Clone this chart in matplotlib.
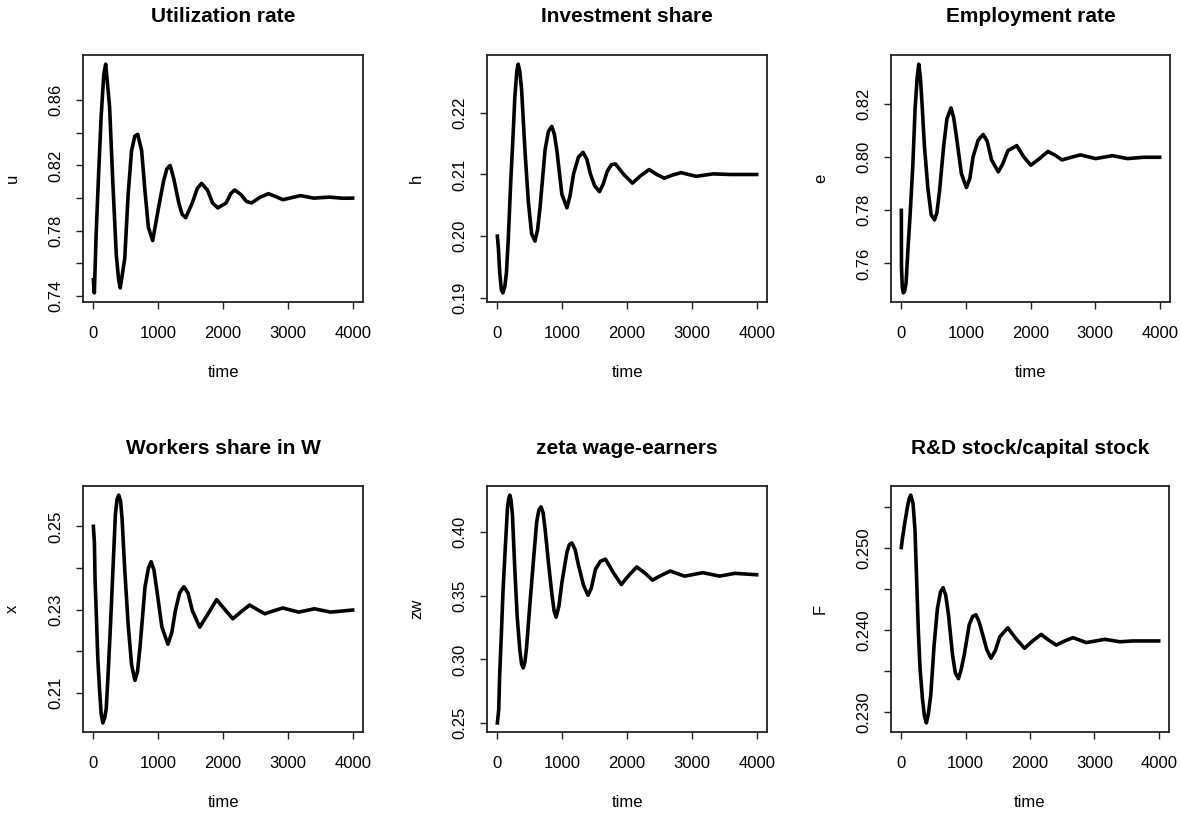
import numpy as np
import matplotlib
matplotlib.use("Agg")
import matplotlib.pyplot as plt

plt.rcParams['font.family'] = ['Liberation Sans', 'DejaVu Sans']

# values (time, value)
u_t = [0, 15, 42, 78, 120, 161, 190, 250, 302, 354, 390, 415, 484, 536, 589, 640, 685,
       745, 797, 849, 915, 1005, 1083, 1135, 1185, 1240, 1318, 1370, 1425, 1526, 1604, 1670,
       1760, 1839, 1920, 2047, 2125, 2180, 2281, 2360, 2440, 2570, 2700, 2810, 2925, 3060,
       3195, 3400, 3640, 3850, 4000]
u_v = [0.750, 0.742, 0.777, 0.812, 0.850, 0.876, 0.882, 0.856, 0.808, 0.765, 0.750, 0.745,
       0.763, 0.802, 0.829, 0.838, 0.839, 0.829, 0.804, 0.782, 0.774, 0.794, 0.8105, 0.818,
       0.820, 0.812, 0.797, 0.790, 0.788, 0.797, 0.806, 0.809, 0.805, 0.797, 0.794, 0.797,
       0.803, 0.805, 0.802, 0.798, 0.797, 0.8005, 0.8027, 0.801, 0.799, 0.8003, 0.8015,
       0.8000, 0.8006, 0.7999, 0.8000]

h_t = [0, 16, 36, 62, 85, 115, 140, 166, 207, 244, 269, 300, 321, 345, 373, 425, 477, 528,
       580, 620, 658, 736, 788, 839, 880, 917, 995, 1073, 1120, 1176, 1250, 1321, 1380, 1435,
       1500, 1575, 1635, 1694, 1760, 1824, 1950, 2083, 2210, 2342, 2460, 2575, 2700, 2834,
       2950, 3067, 3200, 3326, 3600, 4000]
h_v = [0.2000, 0.1980, 0.1941, 0.1913, 0.1908, 0.1918, 0.1941, 0.1990, 0.2090, 0.2167,
       0.2225, 0.2268, 0.2279, 0.2268, 0.2239, 0.2140, 0.2057, 0.2004, 0.1992, 0.2010,
       0.2046, 0.2140, 0.2170, 0.2178, 0.2165, 0.2140, 0.2068, 0.2046, 0.2065, 0.2101,
       0.2128, 0.2136, 0.2125, 0.2101, 0.2082, 0.2072, 0.2085, 0.2105, 0.2116, 0.2117,
       0.2100, 0.2086, 0.2098, 0.2108, 0.2100, 0.2094, 0.2099, 0.2103, 0.2100, 0.2097,
       0.2099, 0.2101, 0.2100, 0.2100]

e_t = [0, 2, 15, 31, 50, 73, 99, 135, 177, 213, 245, 270, 295, 322, 358, 410, 462, 514, 550,
       592, 655, 706, 769, 810, 852, 930, 1008, 1060, 1112, 1190, 1268, 1330, 1397, 1501, 1570,
       1650, 1787, 1900, 2005, 2140, 2270, 2380, 2488, 2630, 2774, 2890, 3008, 3268, 3502,
       3750, 4000]
e_v = [0.780, 0.759, 0.751, 0.7489, 0.7495, 0.7525, 0.764, 0.778, 0.7964, 0.8183, 0.830,
       0.8351, 0.830, 0.8196, 0.8041, 0.7886, 0.7783, 0.7764, 0.7790, 0.7874, 0.8041, 0.8145,
       0.8186, 0.8150, 0.808, 0.7938, 0.7886, 0.7920, 0.8003, 0.8065, 0.8086, 0.8060, 0.799,
       0.7945, 0.7975, 0.8025, 0.8044, 0.800, 0.797, 0.7995, 0.8022, 0.8008, 0.799, 0.8000,
       0.8009, 0.8002, 0.7995, 0.8006, 0.7995, 0.8000, 0.8000]

x_t = [0, 16, 26, 47, 68, 94, 120, 146, 175, 198, 224, 260, 302, 339, 365, 391, 420, 443,
       484, 536, 589, 641, 680, 719, 797, 850, 891, 935, 979, 1057, 1151, 1210, 1266, 1330,
       1396, 1460, 1526, 1641, 1770, 1901, 2030, 2151, 2280, 2411, 2530, 2646, 2780, 2922,
       3167, 3411, 3661, 4000]
x_v = [0.2500, 0.2461, 0.2372, 0.2282, 0.2184, 0.2111, 0.2050, 0.2028, 0.2040, 0.2062,
       0.2135, 0.2249, 0.2396, 0.2527, 0.2565, 0.2575, 0.2560, 0.2518, 0.2396, 0.2266,
       0.2168, 0.2130, 0.2150, 0.2209, 0.2355, 0.2400, 0.2415, 0.2395, 0.2347, 0.2258,
       0.2217, 0.2245, 0.2298, 0.2340, 0.2355, 0.2340, 0.2298, 0.2258, 0.2290, 0.2324,
       0.2300, 0.2278, 0.2295, 0.2311, 0.2300, 0.2290, 0.2297, 0.2304, 0.2294, 0.2302,
       0.2294, 0.2299]

zw_t = [0, 21, 36, 62, 88, 124, 155, 175, 192, 210, 233, 269, 306, 347, 375, 399, 425, 451,
        503, 554, 606, 640, 674, 705, 736, 788, 839, 875, 907, 950, 995, 1073, 1110, 1150,
        1200, 1254, 1330, 1399, 1450, 1513, 1590, 1668, 1790, 1912, 2030, 2150, 2270, 2394,
        2530, 2668, 2886, 3171, 3430, 3663, 4000]
zw_v = [0.2503, 0.2608, 0.2886, 0.3204, 0.3548, 0.3892, 0.4183, 0.4260, 0.4288, 0.4250,
        0.4130, 0.3706, 0.3336, 0.3071, 0.2960, 0.2934, 0.2980, 0.3098, 0.3442, 0.3759,
        0.4077, 0.4170, 0.4196, 0.4150, 0.4024, 0.3759, 0.3521, 0.3380, 0.3331, 0.3420,
        0.3601, 0.3839, 0.3900, 0.3913, 0.3860, 0.3733, 0.3580, 0.3503, 0.3560, 0.3706,
        0.3770, 0.3786, 0.3680, 0.3587, 0.3660, 0.3725, 0.3680, 0.3622, 0.3660, 0.3693,
        0.3653, 0.3680, 0.3653, 0.3675, 0.3664]

F_t = [0, 16, 52, 94, 120, 146, 182, 213, 239, 265, 291, 328, 360, 390, 420, 458, 510, 562,
       610, 650, 690, 733, 796, 840, 889, 930, 978, 1056, 1110, 1160, 1210, 1264, 1330, 1394,
       1460, 1530, 1654, 1780, 1914, 2040, 2174, 2290, 2408, 2540, 2668, 2876, 3162, 3396,
       3600, 4000]
F_v = [0.2501, 0.2511, 0.2530, 0.2550, 0.2560, 0.2565, 0.2555, 0.2522, 0.2460, 0.2399,
       0.2354, 0.2317, 0.2295, 0.2287, 0.2298, 0.2321, 0.2382, 0.2427, 0.2447, 0.2452,
       0.2443, 0.2419, 0.2370, 0.2348, 0.2341, 0.2352, 0.2370, 0.2407, 0.2417, 0.2419,
       0.2410, 0.2395, 0.2376, 0.2366, 0.2375, 0.2392, 0.2403, 0.2390, 0.2378, 0.2387,
       0.2395, 0.2388, 0.2382, 0.2387, 0.2391, 0.2385, 0.2389, 0.2386, 0.2387, 0.2387]

titles = ["Utilization rate", "Investment share", "Employment rate",
          "Workers share in W", "zeta wage-earners", "R&D stock/capital stock"]
ylabels = ["u", "h", "e", "x", "zw", "F"]
series = [(u_t, u_v), (h_t, h_v), (e_t, e_v), (x_t, x_v), (zw_t, zw_v), (F_t, F_v)]
yticks = [[0.74, 0.76, 0.78, 0.80, 0.82, 0.84, 0.86],
          [0.19, 0.20, 0.21, 0.22],
          [0.76, 0.78, 0.80, 0.82],
          [0.21, 0.22, 0.23, 0.24, 0.25],
          [0.25, 0.30, 0.35, 0.40],
          [0.230, 0.235, 0.240, 0.245, 0.250, 0.255]]
ytick_labels = [["0.74", "", "0.78", "", "0.82", "", "0.86"],
                ["0.19", "0.20", "0.21", "0.22"],
                ["0.76", "0.78", "0.80", "0.82"],
                ["0.21", "", "0.23", "", "0.25"],
                ["0.25", "0.30", "0.35", "0.40"],
                ["0.230", "", "0.240", "", "0.250", ""]]
xticks = [0, 1000, 2000, 3000, 4000]

W, H = 1181, 816
# plot boxes in pixels: left, top, right, bottom
boxes = [(83, 55, 363, 302), (487, 55, 767, 302), (891, 55, 1170, 302),
         (83, 486, 363, 732), (487, 486, 767, 732), (891, 486, 1169, 732)]

fig = plt.figure(figsize=(W / 100, H / 100), dpi=100)

for i in range(6):
    l, t, r, b = boxes[i]
    ax = fig.add_axes([l / W, 1 - b / H, (r - l) / W, (b - t) / H])
    ax.plot(series[i][0], series[i][1], color='black', lw=2.6)
    ax.margins(x=0.04, y=0.04)
    ax.set_xticks(xticks)
    ax.set_xticklabels([str(v) for v in xticks])
    ax.set_yticks(yticks[i])
    ax.set_yticklabels(ytick_labels[i])
    ax.tick_params(axis='both', direction='out', length=5, width=1, labelsize=12,
                   color='#222222')
    ax.tick_params(axis='x', pad=12)
    ax.tick_params(axis='y', pad=9, labelrotation=90)
    for lab in ax.get_yticklabels():
        lab.set_va('center')
    for s in ax.spines.values():
        s.set_linewidth(1.3)
        s.set_color('#222222')
    ax.text(0.5, 1 + 38 / (b - t), titles[i], transform=ax.transAxes, ha='center',
            va='center', fontsize=15, fontweight='bold')
    ax.set_xlabel("time", fontsize=12)
    ax.xaxis.set_label_coords(0.5, -63 / (b - t))
    ax.set_ylabel(ylabels[i], fontsize=12)
    ax.yaxis.set_label_coords(-63 / (r - l), 0.5)

fig.savefig("out.png", dpi=100)
